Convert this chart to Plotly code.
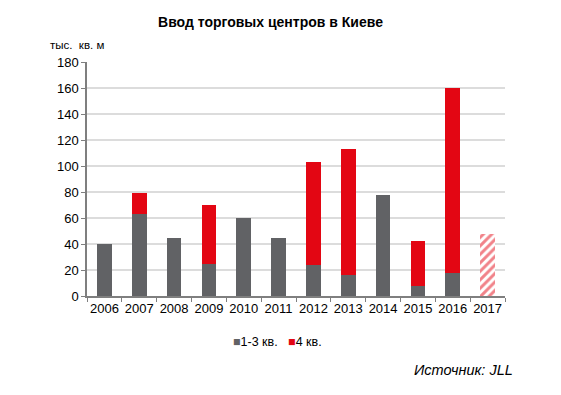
import plotly.graph_objects as go

years = ["2006", "2007", "2008", "2009", "2010", "2011", "2012", "2013", "2014", "2015", "2016", "2017"]
q13 = [40, 63, 45, 25, 60, 45, 24, 16, 78, 8, 18, None]
q4 = [None, 16, None, 45, None, None, 79, 97, None, 34, 142, None]
forecast = [None, None, None, None, None, None, None, None, None, None, None, 48]
yticks = [0, 20, 40, 60, 80, 100, 120, 140, 160, 180]

GRAY = "#616265"
RED = "#e30613"

# page body has an 8px margin; figure is sized/offset to compensate
W, H = 553, 387

fig = go.Figure()
fig.add_trace(go.Bar(x=years, y=q13, name="1-3 кв.", marker=dict(color=GRAY, line=dict(width=0)),
                     width=0.42, showlegend=False))
fig.add_trace(go.Bar(x=years, y=q4, name="4 кв.", marker=dict(color=RED, line=dict(width=0)),
                     width=0.42, showlegend=False))
fig.add_trace(go.Bar(x=years, y=forecast, showlegend=False, width=0.42,
                     marker=dict(color="white", line=dict(width=0),
                                 pattern=dict(shape="/", fgcolor=RED, bgcolor="white", size=6, solidity=0.5))))

legend_text = (f'<span style="color:{GRAY}">■</span>1-3 кв.'
               f'&nbsp;&nbsp;&nbsp;<span style="color:{RED}">■</span>4 кв.')

fig.update_layout(
    width=W, height=H,
    barmode="stack",
    plot_bgcolor="white", paper_bgcolor="white",
    margin=dict(l=79, r=56, t=54, b=99),
    font=dict(family="Liberation Sans, Arial, sans-serif", color="#000000", size=12),
    title=dict(text="<b>Ввод торговых центров в Киеве</b>", x=(270.5 - 8) / W, xanchor="center",
               y=1 - 14 / H, yref="container", yanchor="middle", font=dict(size=14)),
    showlegend=False,
    xaxis=dict(showline=True, linecolor="#7f7f7f", linewidth=1.5, ticks="outside",
               tickcolor="#7f7f7f", ticklen=4, tickson="boundaries", tickangle=0,
               tickfont=dict(size=13)),
    yaxis=dict(range=[0, 180], tickvals=yticks, showgrid=True, gridcolor="#dcdcdc", gridwidth=1.5,
               showline=True, linecolor="#7f7f7f", linewidth=1.5, ticks="outside",
               tickcolor="#7f7f7f", ticklen=4, tickfont=dict(size=13), zeroline=False),
    annotations=[
        dict(text="тыс.  кв. м", xref="paper", yref="paper", x=-0.093, y=1.073,
             xanchor="left", yanchor="middle", showarrow=False, font=dict(size=11.5)),
        dict(text=legend_text, xref="paper", yref="paper", x=(231 - 87) / 418, y=-0.197,
             xanchor="left", yanchor="middle", showarrow=False, font=dict(size=12.5)),
        dict(text="<i>Источник: JLL</i>", xref="paper", yref="paper", x=(515 - 87) / 418, y=-0.316,
             xanchor="right", yanchor="middle", showarrow=False, font=dict(size=14.5)),
    ],
)

fig.write_html("out.html")
